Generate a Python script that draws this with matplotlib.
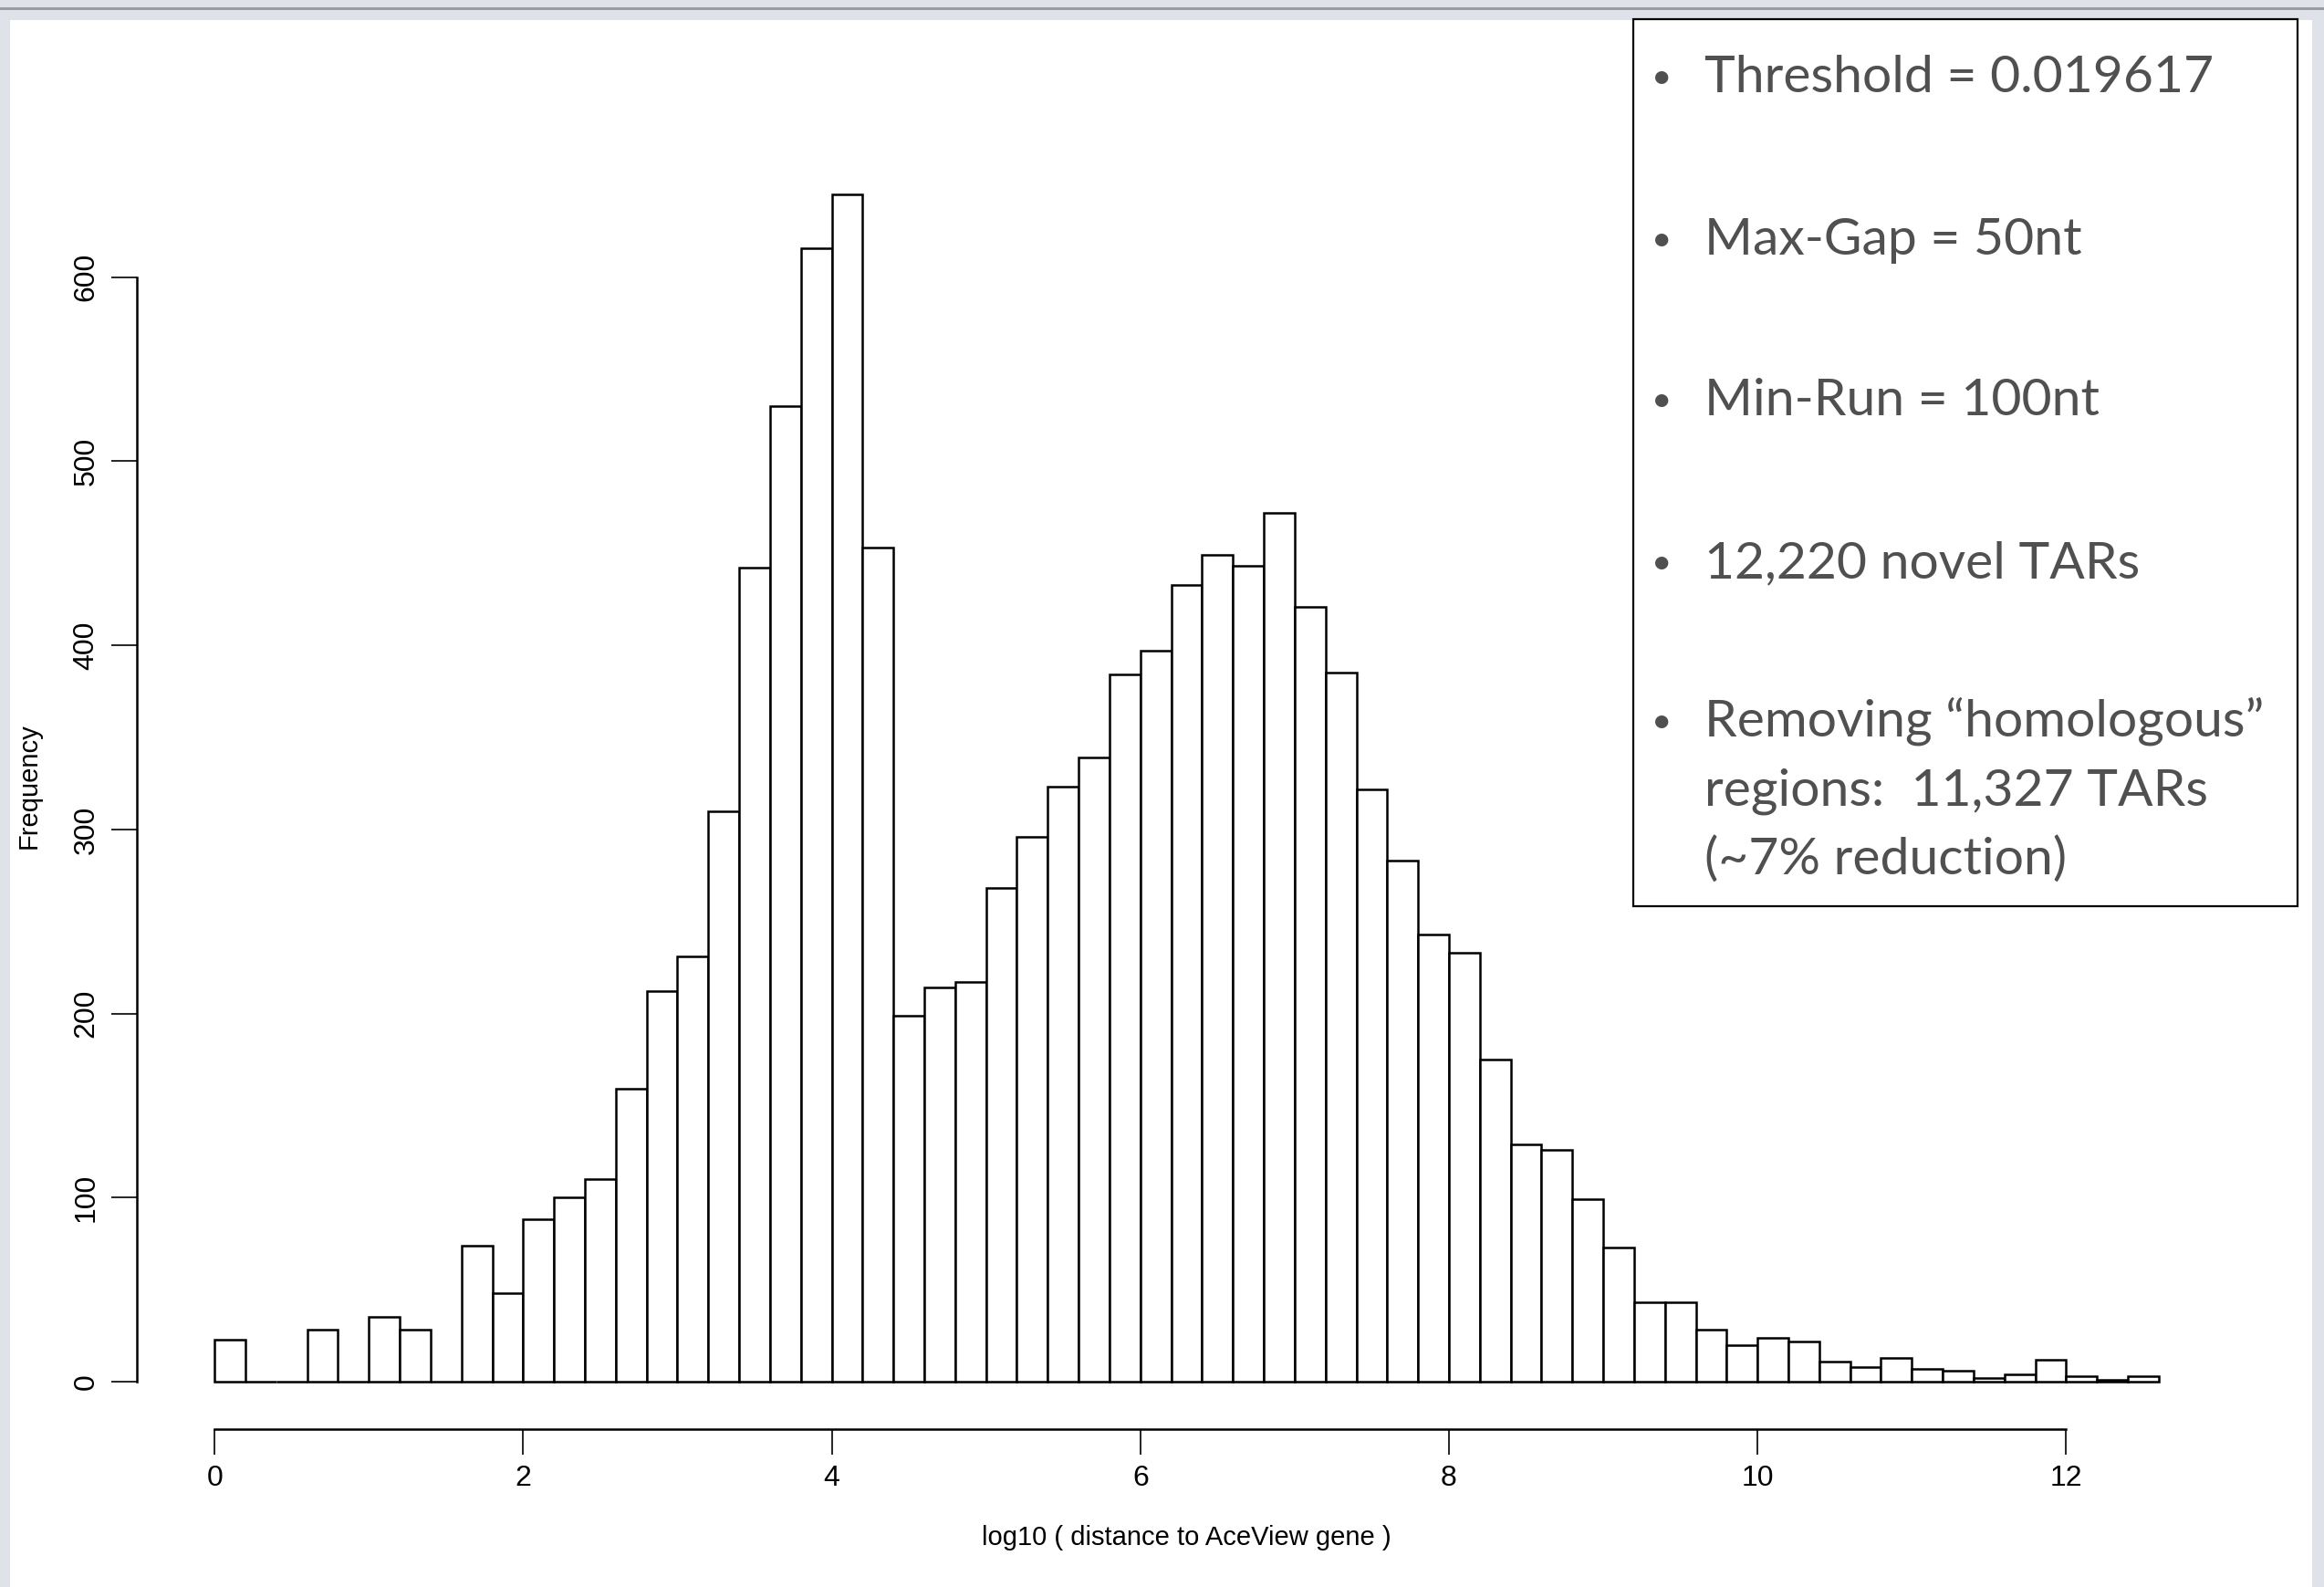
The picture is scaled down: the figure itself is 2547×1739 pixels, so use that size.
import matplotlib
matplotlib.use("Agg")
import matplotlib.pyplot as plt
from matplotlib.patches import Rectangle
import numpy as np

# histogram of log10(distance to AceView gene), bins of width 0.2 starting at 0
bin_start = 0.0
bin_width = 0.2
counts = [23, 0, 0, 28, 0, 35, 28, 0, 74, 48,
          88, 100, 110, 159, 212, 231, 310, 442, 530, 616,
          645, 453, 199, 214, 217, 268, 296, 323, 339, 384,
          397, 433, 449, 443, 472, 421, 385, 322, 283, 243,
          233, 175, 129, 126, 99, 73, 43, 43, 28, 20,
          24, 22, 11, 8, 13, 7, 6, 2, 4, 12,
          3, 1, 3]

x_ticks = [0, 2, 4, 6, 8, 10, 12]
y_ticks = [0, 100, 200, 300, 400, 500, 600]
x_label = "log10 ( distance to AceView gene )"
y_label = "Frequency"

notes = [
    ["Threshold = 0.019617"],
    ["Max-Gap = 50nt"],
    ["Min-Run = 100nt"],
    ["12,220 novel TARs"],
    ["Removing \u201chomologous\u201d", "regions:  11,327 TARs", "(~7% reduction)"],
]

W, H = 2547, 1739
fig = plt.figure(figsize=(W / 100, H / 100), dpi=100, facecolor="#dfe2e8")

# slide window: gray frame with white page (behind the axes)
fig.add_artist(Rectangle((0, 1 - 11 / H), 1, 3 / H, transform=fig.transFigure,
                         facecolor="#9a9ca0", edgecolor="none", zorder=-5))
fig.add_artist(Rectangle((11 / W, 0), (2534 - 11) / W, 1 - 22 / H, transform=fig.transFigure,
                         facecolor="white", edgecolor="none", zorder=-5))

plt.rcParams["font.family"] = ["Liberation Sans Narrow", "Liberation Sans", "DejaVu Sans"]

n = len(counts)
edges = bin_start + bin_width * np.arange(n)
xmax = bin_start + bin_width * n
ymax = max(counts)
# R style 4% padding
xpad = 0.04 * (xmax - bin_start)
ypad = 0.04 * ymax

left, right = 150 / W, 2451 / W
bottom, top = 1 - 1566 / H, 1 - 161 / H
ax = fig.add_axes([left, bottom, right - left, top - bottom])
ax.set_facecolor("none")

ax.bar(edges, counts, width=bin_width, align="edge", facecolor="white",
       edgecolor="black", linewidth=1.8)

ax.set_xlim(bin_start - xpad, xmax + xpad)
ax.set_ylim(-ypad, ymax + ypad)

for s in ["top", "right"]:
    ax.spines[s].set_visible(False)
ax.spines["left"].set_bounds(y_ticks[0], y_ticks[-1])
ax.spines["bottom"].set_bounds(x_ticks[0], x_ticks[-1])
for s in ["left", "bottom"]:
    ax.spines[s].set_linewidth(1.8)

ax.set_xticks(x_ticks)
ax.set_yticks(y_ticks)
ax.set_xticklabels([str(t) for t in x_ticks])
ax.set_yticklabels([str(t) for t in y_ticks], rotation=90, va="center")
ax.tick_params(axis="both", length=20, width=1.2, labelsize=23, direction="out")
ax.tick_params(axis="x", pad=8)
ax.tick_params(axis="y", pad=9)

fig.text(1300 / W, 1 - 1685 / H, x_label, fontsize=21, ha="center", va="center")
fig.text(32 / W, 1 - 861 / H, y_label, fontsize=21, ha="center", va="center", rotation=90)

# note box
fig.add_artist(Rectangle((1790 / W, 1 - 993 / H), (2518 - 1790) / W, (993 - 21) / H,
                         transform=fig.transFigure, facecolor="white",
                         edgecolor="black", linewidth=1.6, zorder=2))

baselines = [[101], [279], [455], [633], [807, 882, 958]]
note_font = dict(family=["Lato", "DejaVu Sans"], fontsize=41, color="#505050")
for lines, ys in zip(notes, baselines):
    fig.text(1821 / W, 1 - (ys[0] - 16) / H, "\u2022", ha="center", va="center",
             family=["Lato", "DejaVu Sans"], fontsize=28, color="#505050", zorder=3)
    for line, y in zip(lines, ys):
        fig.text(1868 / W, 1 - y / H, line, ha="left", va="baseline", zorder=3, **note_font)

fig.savefig("out.png", dpi=100, facecolor=fig.get_facecolor())
